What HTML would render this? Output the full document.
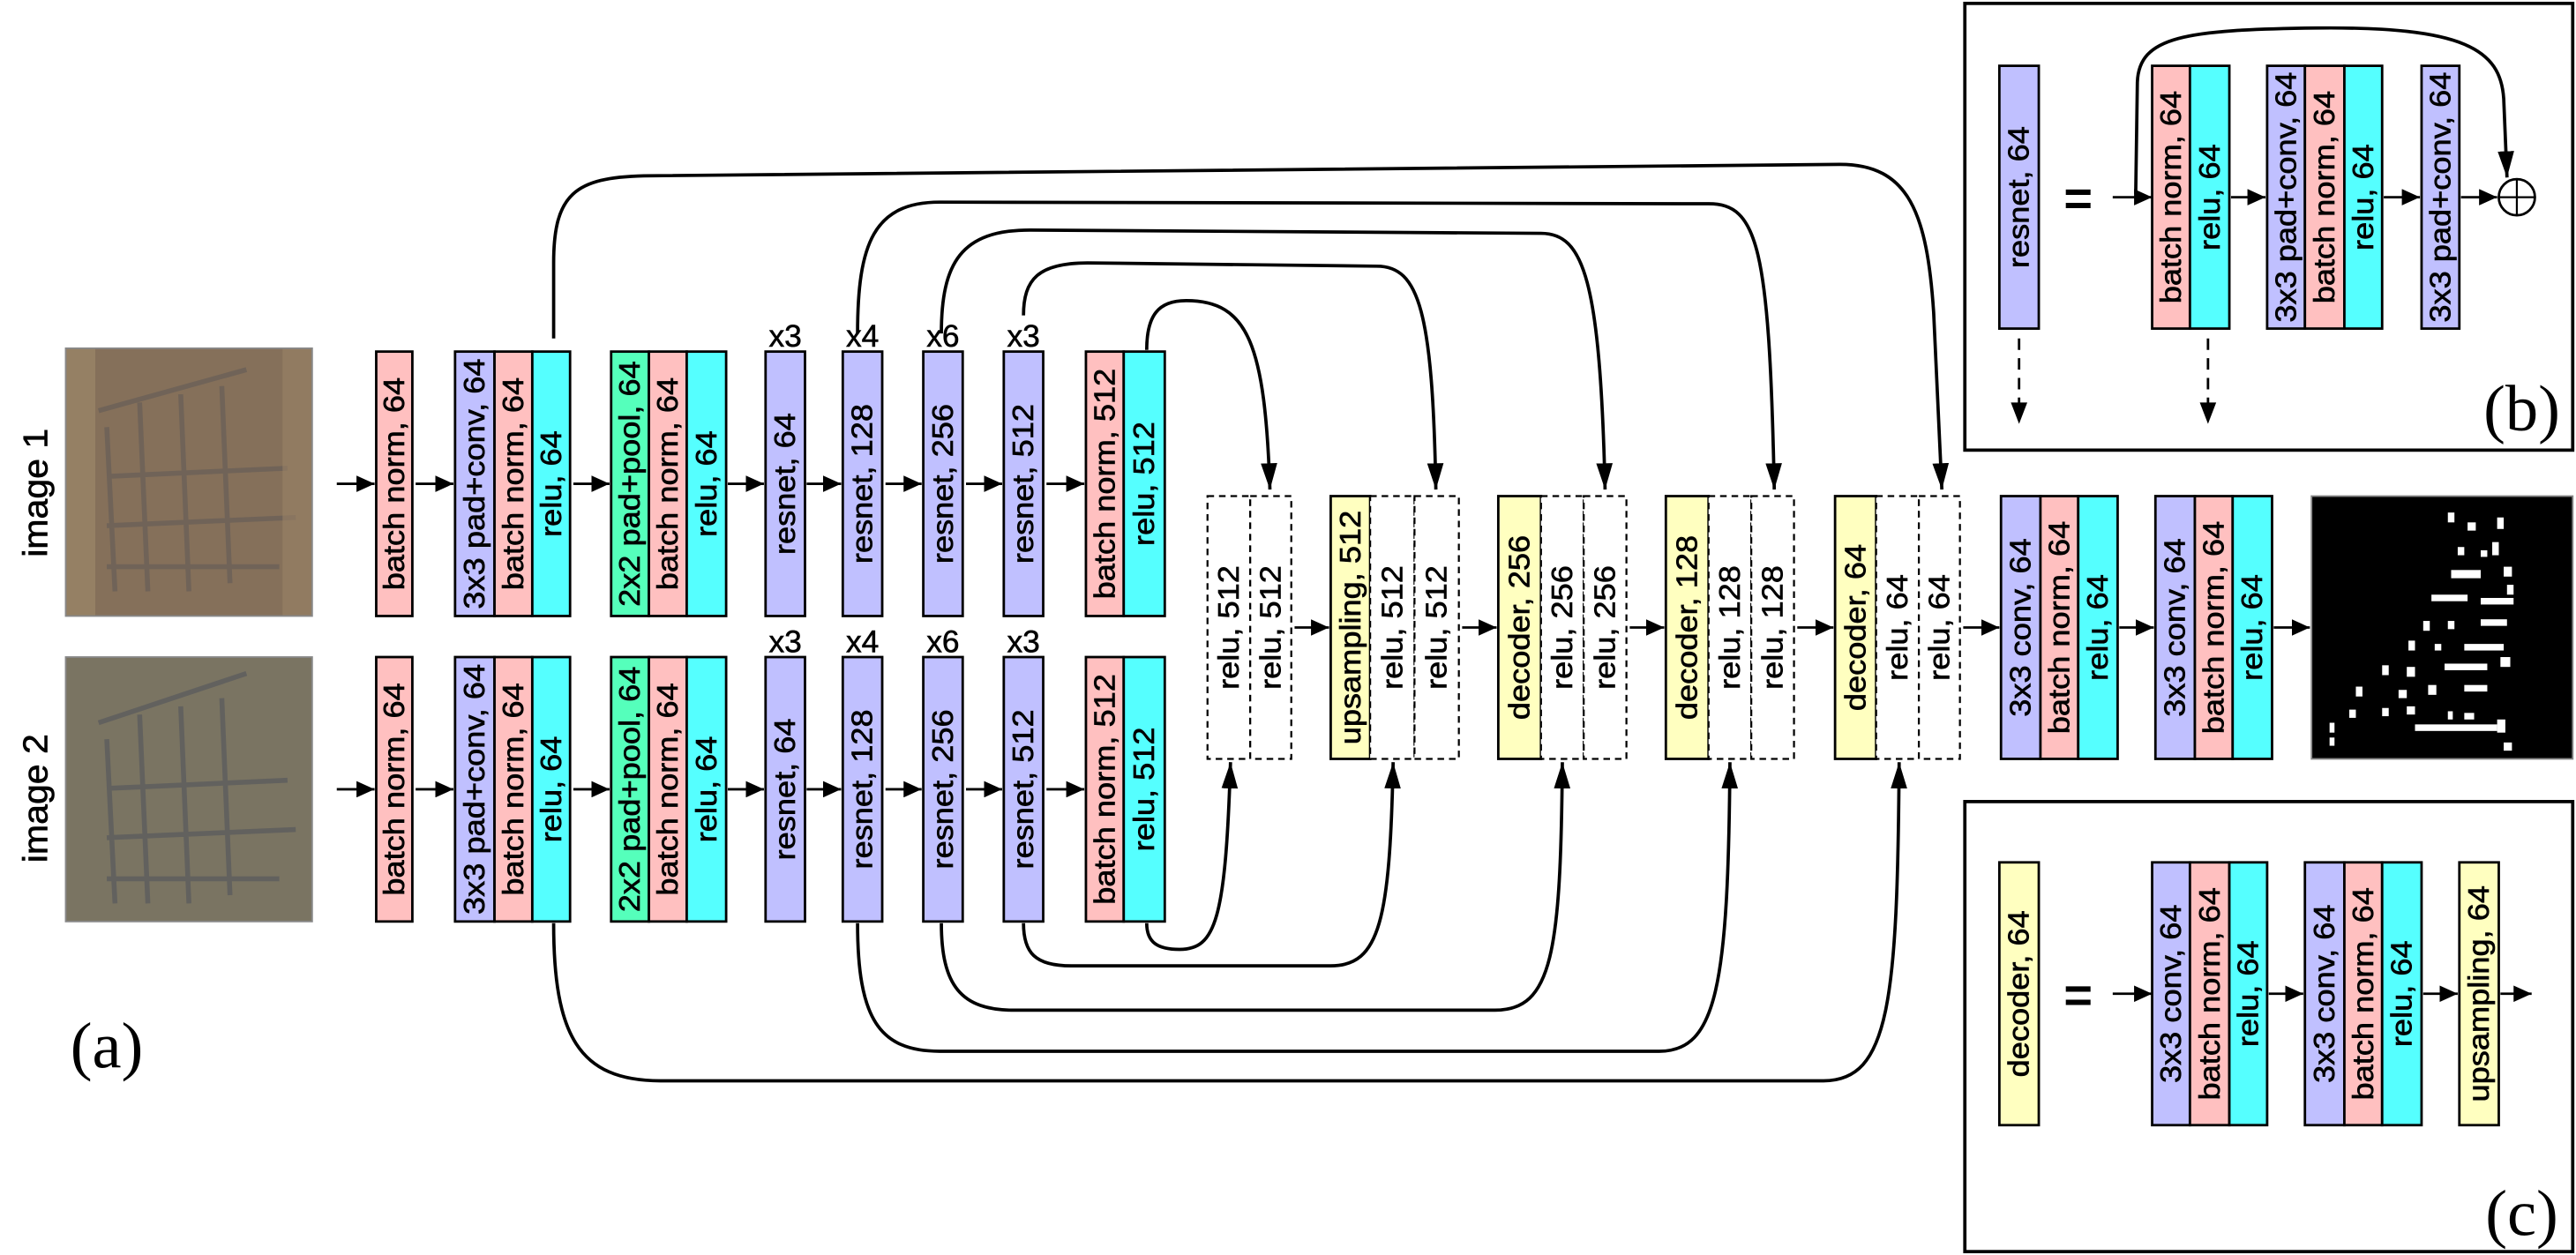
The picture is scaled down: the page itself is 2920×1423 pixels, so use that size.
<!DOCTYPE html>
<html><head><meta charset="utf-8"><style>html,body{margin:0;padding:0;background:#fff}svg{display:block}</style></head><body>
<svg xmlns="http://www.w3.org/2000/svg" width="2920" height="1423" viewBox="0 0 1568 764" font-family="Liberation Sans, sans-serif">
<defs>
<marker id="a" markerUnits="userSpaceOnUse" markerWidth="11" markerHeight="10" refX="11" refY="5" orient="auto"><path d="M0,0L11,5L0,10z" fill="#000"/></marker>
<marker id="b" markerUnits="userSpaceOnUse" markerWidth="16" markerHeight="10" refX="16" refY="5" orient="auto"><path d="M0,0L16,5L0,10z" fill="#000"/></marker>
<style>
.p{fill:#FFC0C0;stroke:#000;stroke-width:1.5}
.l{fill:#C0C0FF;stroke:#000;stroke-width:1.5}
.c{fill:#55FFFF;stroke:#000;stroke-width:1.5}
.g{fill:#55FFBB;stroke:#000;stroke-width:1.5}
.y{fill:#FFFFC0;stroke:#000;stroke-width:1.5}
.d{fill:#fff;stroke:#000;stroke-width:1.2;stroke-dasharray:4,3}
.t{font-size:18px;text-anchor:middle;dominant-baseline:central;stroke:#000;stroke-width:0.35}
.ar{stroke:#000;stroke-width:1.5;fill:none;marker-end:url(#a)}
.sk{stroke:#000;stroke-width:2;fill:none;marker-end:url(#b)}
</style>
</defs>

<!-- images -->
<rect x="40" y="212" width="150" height="163" fill="#85705a"/>
<g stroke="#6a6058" stroke-width="3" fill="none" opacity="0.8">
<path d="M60,250 L150,225 M65,260 L70,360 M85,245 L90,360 M110,240 L115,360 M135,235 L140,355 M65,290 L175,285 M65,320 L180,315 M65,345 L170,345"/>
</g>
<rect x="40" y="212" width="18" height="163" fill="#a08a6a" opacity="0.6"/>
<rect x="172" y="212" width="18" height="163" fill="#9a8266" opacity="0.6"/>
<rect x="40" y="212" width="150" height="163" fill="none" stroke="#888" stroke-width="1"/>

<rect x="40" y="400" width="150" height="161" fill="#7a7462"/>
<g stroke="#5e5e5e" stroke-width="3" fill="none" opacity="0.85">
<path d="M60,440 L150,410 M65,450 L70,550 M85,435 L90,550 M110,430 L115,550 M135,425 L140,545 M65,480 L175,475 M65,510 L180,505 M65,535 L170,535"/>
</g>
<rect x="40" y="400" width="150" height="161" fill="none" stroke="#888" stroke-width="1"/>

<text class="t" transform="translate(22,300) rotate(-90) scale(1.05,1)" style="font-size:21px">image 1</text>
<text class="t" transform="translate(22,486) rotate(-90) scale(1.05,1)" style="font-size:21px">image 2</text>

<text x="65" y="650" font-family="Liberation Serif, serif" font-size="40" text-anchor="middle">(a)</text>

<g id="row1">
<rect class="p" x="229" y="214" width="22" height="161"/>
<rect class="l" x="277" y="214" width="24" height="161"/>
<rect class="p" x="301" y="214" width="23" height="161"/>
<rect class="c" x="324" y="214" width="23" height="161"/>
<rect class="g" x="372" y="214" width="23" height="161"/>
<rect class="p" x="395" y="214" width="23" height="161"/>
<rect class="c" x="418" y="214" width="24" height="161"/>
<rect class="l" x="466" y="214" width="24" height="161"/>
<rect class="l" x="513" y="214" width="24" height="161"/>
<rect class="l" x="562" y="214" width="24" height="161"/>
<rect class="l" x="611" y="214" width="24" height="161"/>
<rect class="p" x="661" y="214" width="23" height="161"/>
<rect class="c" x="684" y="214" width="25" height="161"/>
<text class="t" transform="translate(240,294.5) rotate(-90) scale(1.08,1)">batch norm, 64</text>
<text class="t" transform="translate(289,294.5) rotate(-90) scale(1.08,1)">3x3 pad+conv, 64</text>
<text class="t" transform="translate(312.5,294.5) rotate(-90) scale(1.08,1)">batch norm, 64</text>
<text class="t" transform="translate(335.5,294.5) rotate(-90) scale(1.08,1)">relu, 64</text>
<text class="t" transform="translate(383.5,294.5) rotate(-90) scale(1.08,1)">2x2 pad+pool, 64</text>
<text class="t" transform="translate(406.5,294.5) rotate(-90) scale(1.08,1)">batch norm, 64</text>
<text class="t" transform="translate(430,294.5) rotate(-90) scale(1.08,1)">relu, 64</text>
<text class="t" transform="translate(478,294.5) rotate(-90) scale(1.08,1)">resnet, 64</text>
<text class="t" transform="translate(525,294.5) rotate(-90) scale(1.08,1)">resnet, 128</text>
<text class="t" transform="translate(574,294.5) rotate(-90) scale(1.08,1)">resnet, 256</text>
<text class="t" transform="translate(623,294.5) rotate(-90) scale(1.08,1)">resnet, 512</text>
<text class="t" transform="translate(672.5,294.5) rotate(-90) scale(1.08,1)">batch norm, 512</text>
<text class="t" transform="translate(696.5,294.5) rotate(-90) scale(1.08,1)">relu, 512</text>
<path class="ar" d="M205,294.5H228"/>
<path class="ar" d="M253,294.5H276"/>
<path class="ar" d="M349,294.5H371"/>
<path class="ar" d="M443,294.5H465"/>
<path class="ar" d="M491,294.5H512"/>
<path class="ar" d="M539,294.5H561"/>
<path class="ar" d="M588,294.5H610"/>
<path class="ar" d="M637,294.5H660"/>
<g font-size="19" text-anchor="middle" stroke="#000" stroke-width="0.3">
<text x="478" y="211">x3</text><text x="525" y="211">x4</text><text x="574" y="211">x6</text><text x="623" y="211">x3</text>
</g>
</g>
<use href="#row1" transform="translate(0,186)"/>

<rect class="d" x="735" y="302" width="26" height="160"/>
<rect class="d" x="761" y="302" width="25" height="160"/>
<rect class="y" x="810" y="302" width="24" height="160"/>
<rect class="d" x="834" y="302" width="27" height="160"/>
<rect class="d" x="861" y="302" width="27" height="160"/>
<rect class="y" x="912" y="302" width="26" height="160"/>
<rect class="d" x="938" y="302" width="26" height="160"/>
<rect class="d" x="964" y="302" width="26" height="160"/>
<rect class="y" x="1014" y="302" width="26" height="160"/>
<rect class="d" x="1040" y="302" width="26" height="160"/>
<rect class="d" x="1066" y="302" width="26" height="160"/>
<rect class="y" x="1117" y="302" width="25" height="160"/>
<rect class="d" x="1142" y="302" width="26" height="160"/>
<rect class="d" x="1168" y="302" width="25" height="160"/>
<rect class="l" x="1218" y="302" width="24" height="160"/>
<rect class="p" x="1242" y="302" width="23" height="160"/>
<rect class="c" x="1265" y="302" width="24" height="160"/>
<rect class="l" x="1312" y="302" width="24" height="160"/>
<rect class="p" x="1336" y="302" width="23" height="160"/>
<rect class="c" x="1359" y="302" width="24" height="160"/>
<text class="t" transform="translate(748,382) rotate(-90) scale(1.08,1)">relu, 512</text>
<text class="t" transform="translate(773.5,382) rotate(-90) scale(1.08,1)">relu, 512</text>
<text class="t" transform="translate(822,382) rotate(-90) scale(1.08,1)">upsampling, 512</text>
<text class="t" transform="translate(847.5,382) rotate(-90) scale(1.08,1)">relu, 512</text>
<text class="t" transform="translate(874.5,382) rotate(-90) scale(1.08,1)">relu, 512</text>
<text class="t" transform="translate(925,382) rotate(-90) scale(1.08,1)">decoder, 256</text>
<text class="t" transform="translate(951,382) rotate(-90) scale(1.08,1)">relu, 256</text>
<text class="t" transform="translate(977,382) rotate(-90) scale(1.08,1)">relu, 256</text>
<text class="t" transform="translate(1027,382) rotate(-90) scale(1.08,1)">decoder, 128</text>
<text class="t" transform="translate(1053,382) rotate(-90) scale(1.08,1)">relu, 128</text>
<text class="t" transform="translate(1079,382) rotate(-90) scale(1.08,1)">relu, 128</text>
<text class="t" transform="translate(1129.5,382) rotate(-90) scale(1.08,1)">decoder, 64</text>
<text class="t" transform="translate(1155,382) rotate(-90) scale(1.08,1)">relu, 64</text>
<text class="t" transform="translate(1180.5,382) rotate(-90) scale(1.08,1)">relu, 64</text>
<text class="t" transform="translate(1230,382) rotate(-90) scale(1.08,1)">3x3 conv, 64</text>
<text class="t" transform="translate(1253.5,382) rotate(-90) scale(1.08,1)">batch norm, 64</text>
<text class="t" transform="translate(1277,382) rotate(-90) scale(1.08,1)">relu, 64</text>
<text class="t" transform="translate(1324,382) rotate(-90) scale(1.08,1)">3x3 conv, 64</text>
<text class="t" transform="translate(1347.5,382) rotate(-90) scale(1.08,1)">batch norm, 64</text>
<text class="t" transform="translate(1371,382) rotate(-90) scale(1.08,1)">relu, 64</text>
<path class="ar" d="M788,382H809"/>
<path class="ar" d="M890,382H911"/>
<path class="ar" d="M992,382H1013"/>
<path class="ar" d="M1094,382H1116"/>
<path class="ar" d="M1195,382H1217"/>
<path class="ar" d="M1290,382H1311"/>
<path class="ar" d="M1384,382H1406"/>

<rect x="1407" y="302" width="159" height="160" fill="#000" stroke="#888" stroke-width="1"/>
<g fill="#fff">
<rect x="1490" y="312" width="4" height="6"/><rect x="1502" y="318" width="5" height="5"/><rect x="1520" y="315" width="4" height="7"/>
<rect x="1496" y="333" width="4" height="5"/><rect x="1510" y="335" width="4" height="4"/><rect x="1517" y="330" width="4" height="8"/>
<rect x="1492" y="347" width="18" height="5"/><rect x="1524" y="345" width="5" height="6"/>
<rect x="1480" y="362" width="22" height="4"/><rect x="1510" y="364" width="20" height="4"/><rect x="1526" y="356" width="4" height="6"/>
<rect x="1475" y="378" width="4" height="6"/><rect x="1490" y="378" width="4" height="5"/><rect x="1510" y="377" width="16" height="4"/>
<rect x="1466" y="390" width="4" height="6"/><rect x="1482" y="392" width="4" height="4"/><rect x="1500" y="392" width="24" height="4"/>
<rect x="1450" y="405" width="4" height="6"/><rect x="1465" y="406" width="5" height="6"/><rect x="1488" y="404" width="26" height="4"/><rect x="1522" y="400" width="6" height="6"/>
<rect x="1434" y="418" width="4" height="6"/><rect x="1460" y="420" width="5" height="5"/><rect x="1478" y="417" width="5" height="6"/><rect x="1500" y="417" width="14" height="4"/>
<rect x="1430" y="432" width="4" height="5"/><rect x="1450" y="431" width="4" height="5"/><rect x="1465" y="430" width="5" height="5"/><rect x="1490" y="433" width="3" height="5"/><rect x="1500" y="434" width="6" height="4"/>
<rect x="1418" y="440" width="3" height="6"/><rect x="1470" y="441" width="50" height="4"/><rect x="1520" y="438" width="5" height="8"/>
<rect x="1418" y="449" width="3" height="5"/><rect x="1524" y="452" width="5" height="5"/>
</g>

<path class="sk" d="M337,206 L337,160 C337,118 350,108 392,107 L1120,100 C1162,100 1173,130 1177,190 L1182,298"/>
<path class="sk" d="M522,203 C522,148 532,123 572,123 L1040,124 C1070,124 1077,150 1080,298"/>
<path class="sk" d="M573,203 C573,160 585,140 627,140 L938,142 C964,142 974,170 977,298"/>
<path class="sk" d="M623,192 C623,170 632,160 662,160 L838,162 C864,162 872,190 874,298"/>
<path class="sk" d="M698,213 C698,192 705,183 722,183 C760,183 770,210 773,298"/>
<path class="sk" d="M698,562 C698,574 705,578 718,578 C740,578 746,560 749,464"/>
<path class="sk" d="M623,562 C623,580 630,588 652,588 L810,588 C840,588 846,560 848,464"/>
<path class="sk" d="M573,562 C573,600 585,615 617,615 L910,615 C945,615 950,580 951,464"/>
<path class="sk" d="M522,562 C522,620 535,640 572,640 L1010,640 C1045,640 1052,600 1053,464"/>
<path class="sk" d="M337,562 C337,630 352,658 402,658 L1110,658 C1150,658 1155,610 1156,464"/>

<rect x="1196" y="2" width="370" height="272" fill="none" stroke="#000" stroke-width="2"/>
<rect class="l" x="1217" y="40" width="24" height="160"/>
<text class="t" transform="translate(1229,120) rotate(-90) scale(1.08,1)">resnet, 64</text>
<text x="1265" y="131" font-size="30" font-weight="bold" text-anchor="middle">=</text>
<rect class="p" x="1310" y="40" width="23" height="160"/>
<rect class="c" x="1333" y="40" width="24" height="160"/>
<rect class="l" x="1380" y="40" width="23" height="160"/>
<rect class="p" x="1403" y="40" width="24" height="160"/>
<rect class="c" x="1427" y="40" width="23" height="160"/>
<rect class="l" x="1474" y="40" width="23" height="160"/>
<text class="t" transform="translate(1321.5,120) rotate(-90) scale(1.08,1)">batch norm, 64</text>
<text class="t" transform="translate(1345,120) rotate(-90) scale(1.08,1)">relu, 64</text>
<text class="t" transform="translate(1391.5,120) rotate(-90) scale(1.08,1)">3x3 pad+conv, 64</text>
<text class="t" transform="translate(1415,120) rotate(-90) scale(1.08,1)">batch norm, 64</text>
<text class="t" transform="translate(1438.5,120) rotate(-90) scale(1.08,1)">relu, 64</text>
<text class="t" transform="translate(1485.5,120) rotate(-90) scale(1.08,1)">3x3 pad+conv, 64</text>
<path class="ar" d="M1286,120H1310"/>
<path class="ar" d="M1358,120H1379"/>
<path class="ar" d="M1451,120H1473"/>
<path class="ar" d="M1498,120H1520"/>
<path class="sk" d="M1300,118 L1301,50 C1302,22 1330,18 1410,17 C1500,16 1522,30 1524,60 L1526,108"/>
<circle cx="1532" cy="120" r="11" fill="#fff" stroke="#000" stroke-width="1.5"/>
<path d="M1521,120H1543M1532,109V131" stroke="#000" stroke-width="1.2"/>
<path d="M1229,206V248" stroke="#000" stroke-width="1.5" stroke-dasharray="7,5"/>
<path d="M1224,245L1229,258L1234,245z"/>
<path d="M1344,206V248" stroke="#000" stroke-width="1.5" stroke-dasharray="7,5"/>
<path d="M1339,245L1344,258L1349,245z"/>
<text x="1535" y="262" font-family="Liberation Serif, serif" font-size="40" text-anchor="middle">(b)</text>

<rect x="1196" y="488" width="370" height="274" fill="none" stroke="#000" stroke-width="2"/>
<rect class="y" x="1217" y="525" width="24" height="160"/>
<text class="t" transform="translate(1229,605) rotate(-90) scale(1.08,1)">decoder, 64</text>
<text x="1265" y="616" font-size="30" font-weight="bold" text-anchor="middle">=</text>
<rect class="l" x="1310" y="525" width="23" height="160"/>
<rect class="p" x="1333" y="525" width="24" height="160"/>
<rect class="c" x="1357" y="525" width="23" height="160"/>
<rect class="l" x="1403" y="525" width="24" height="160"/>
<rect class="p" x="1427" y="525" width="23" height="160"/>
<rect class="c" x="1450" y="525" width="24" height="160"/>
<rect class="y" x="1497" y="525" width="24" height="160"/>
<text class="t" transform="translate(1321.5,605) rotate(-90) scale(1.08,1)">3x3 conv, 64</text>
<text class="t" transform="translate(1345,605) rotate(-90) scale(1.08,1)">batch norm, 64</text>
<text class="t" transform="translate(1368.5,605) rotate(-90) scale(1.08,1)">relu, 64</text>
<text class="t" transform="translate(1415,605) rotate(-90) scale(1.08,1)">3x3 conv, 64</text>
<text class="t" transform="translate(1438.5,605) rotate(-90) scale(1.08,1)">batch norm, 64</text>
<text class="t" transform="translate(1462,605) rotate(-90) scale(1.08,1)">relu, 64</text>
<text class="t" transform="translate(1509,605) rotate(-90) scale(1.08,1)">upsampling, 64</text>
<path class="ar" d="M1286,605H1310"/>
<path class="ar" d="M1381,605H1402"/>
<path class="ar" d="M1475,605H1496"/>
<path class="ar" d="M1522,605H1541"/>
<text x="1535" y="752" font-family="Liberation Serif, serif" font-size="40" text-anchor="middle">(c)</text>
</svg>
</body></html>
